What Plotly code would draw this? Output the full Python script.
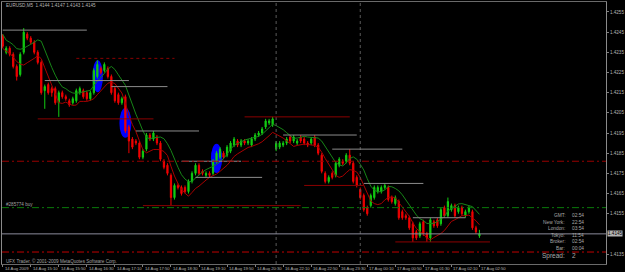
import plotly.graph_objects as go
import pandas as pd

# ---------------- data (EURUSD, M5) ----------------
bar_index = list(range(137))

opens = [1.4243, 1.4235, 1.4237, 1.4234, 1.4228, 1.4224, 1.4235, 1.4244, 1.4242, 1.4240,
         1.4235, 1.4230, 1.4216, 1.4219, 1.4217, 1.4217, 1.4210, 1.4215, 1.4213, 1.4211,
         1.4210, 1.4211, 1.4215, 1.4216, 1.4215, 1.4212, 1.4215, 1.4223, 1.4227, 1.4226,
         1.4227, 1.4223, 1.4217, 1.4214, 1.4210, 1.4213, 1.4198, 1.4192, 1.4191, 1.4190,
         1.4183, 1.4187, 1.4194, 1.4192, 1.4193, 1.4190, 1.4181, 1.4179, 1.4174, 1.4163,
         1.4169, 1.4168, 1.4168, 1.4166, 1.4171, 1.4175, 1.4179, 1.4176, 1.4174, 1.4175,
         1.4175, 1.4181, 1.4183, 1.4185, 1.4184, 1.4186, 1.4189, 1.4191, 1.4189, 1.4191,
         1.4190, 1.4189, 1.4192, 1.4194, 1.4195, 1.4198, 1.4200, 1.4199, 1.4187, 1.4188,
         1.4189, 1.4190, 1.4193, 1.4191, 1.4190, 1.4193, 1.4192, 1.4190, 1.4190, 1.4193,
         1.4189, 1.4184, 1.4175, 1.4171, 1.4175, 1.4174, 1.4179, 1.4181, 1.4181, 1.4184,
         1.4180, 1.4173, 1.4167, 1.4164, 1.4158, 1.4159, 1.4163, 1.4166, 1.4166, 1.4168,
         1.4168, 1.4163, 1.4160, 1.4161, 1.4156, 1.4154, 1.4153, 1.4150, 1.4146, 1.4144,
         1.4151, 1.4145, 1.4143, 1.4151, 1.4152, 1.4150, 1.4158, 1.4154, 1.4157, 1.4159,
         1.4156, 1.4158, 1.4154, 1.4156, 1.4156, 1.4148, 1.4144]

highs = [1.4244, 1.4238, 1.4238, 1.4235, 1.4229, 1.4235, 1.4247, 1.4245, 1.4243, 1.4241,
         1.4236, 1.4231, 1.4219, 1.4220, 1.4218, 1.4218, 1.4216, 1.4216, 1.4214, 1.4212,
         1.4213, 1.4217, 1.4218, 1.4217, 1.4216, 1.4216, 1.4227, 1.4231, 1.4228, 1.4230,
         1.4228, 1.4224, 1.4218, 1.4215, 1.4213, 1.4214, 1.4199, 1.4193, 1.4192, 1.4191,
         1.4187, 1.4195, 1.4195, 1.4196, 1.4194, 1.4191, 1.4182, 1.4180, 1.4175, 1.4170,
         1.4170, 1.4169, 1.4169, 1.4172, 1.4176, 1.4180, 1.4180, 1.4177, 1.4176, 1.4176,
         1.4182, 1.4186, 1.4188, 1.4186, 1.4189, 1.4191, 1.4193, 1.4192, 1.4192, 1.4192,
         1.4192, 1.4193, 1.4195, 1.4196, 1.4198, 1.4202, 1.4202, 1.4203, 1.4191, 1.4191,
         1.4191, 1.4193, 1.4194, 1.4194, 1.4192, 1.4194, 1.4193, 1.4191, 1.4193, 1.4194,
         1.4190, 1.4185, 1.4176, 1.4174, 1.4176, 1.4181, 1.4183, 1.4182, 1.4185, 1.4187,
         1.4181, 1.4174, 1.4168, 1.4165, 1.4159, 1.4165, 1.4169, 1.4169, 1.4169, 1.4170,
         1.4169, 1.4164, 1.4164, 1.4162, 1.4157, 1.4155, 1.4154, 1.4151, 1.4147, 1.4151,
         1.4152, 1.4146, 1.4153, 1.4152, 1.4153, 1.4158, 1.4159, 1.4163, 1.4160, 1.4160,
         1.4159, 1.4159, 1.4157, 1.4159, 1.4157, 1.4149, 1.4147]

lows = [1.4237, 1.4234, 1.4233, 1.4227, 1.4221, 1.4223, 1.4234, 1.4241, 1.4239, 1.4234,
        1.4229, 1.4214, 1.4207, 1.4214, 1.4213, 1.4209, 1.4203, 1.4212, 1.4211, 1.4208,
        1.4209, 1.4210, 1.4214, 1.4212, 1.4211, 1.4211, 1.4214, 1.4222, 1.4224, 1.4225,
        1.4222, 1.4214, 1.4210, 1.4209, 1.4209, 1.4195, 1.4185, 1.4187, 1.4189, 1.4182,
        1.4182, 1.4186, 1.4191, 1.4191, 1.4189, 1.4181, 1.4177, 1.4174, 1.4159, 1.4162,
        1.4167, 1.4164, 1.4165, 1.4165, 1.4170, 1.4174, 1.4174, 1.4174, 1.4173, 1.4173,
        1.4174, 1.4180, 1.4182, 1.4182, 1.4183, 1.4185, 1.4188, 1.4188, 1.4188, 1.4189,
        1.4189, 1.4188, 1.4191, 1.4193, 1.4194, 1.4197, 1.4199, 1.4198, 1.4186, 1.4187,
        1.4188, 1.4189, 1.4190, 1.4190, 1.4189, 1.4190, 1.4189, 1.4188, 1.4189, 1.4188,
        1.4184, 1.4175, 1.4170, 1.4170, 1.4172, 1.4173, 1.4178, 1.4179, 1.4180, 1.4179,
        1.4170, 1.4168, 1.4162, 1.4156, 1.4154, 1.4158, 1.4162, 1.4165, 1.4165, 1.4167,
        1.4161, 1.4160, 1.4159, 1.4152, 1.4152, 1.4152, 1.4147, 1.4141, 1.4142, 1.4143,
        1.4144, 1.4141, 1.4141, 1.4148, 1.4148, 1.4149, 1.4153, 1.4153, 1.4156, 1.4153,
        1.4155, 1.4154, 1.4153, 1.4155, 1.4147, 1.4145, 1.4143]

closes = [1.4238, 1.4237, 1.4234, 1.4228, 1.4223, 1.4234, 1.4245, 1.4242, 1.4240, 1.4235,
          1.4230, 1.4215, 1.4218, 1.4215, 1.4215, 1.4210, 1.4215, 1.4213, 1.4212, 1.4209,
          1.4212, 1.4216, 1.4217, 1.4213, 1.4212, 1.4215, 1.4226, 1.4229, 1.4225, 1.4229,
          1.4223, 1.4215, 1.4211, 1.4210, 1.4212, 1.4196, 1.4191, 1.4188, 1.4190, 1.4183,
          1.4186, 1.4194, 1.4192, 1.4195, 1.4190, 1.4182, 1.4178, 1.4175, 1.4163, 1.4169,
          1.4168, 1.4165, 1.4166, 1.4171, 1.4175, 1.4179, 1.4175, 1.4175, 1.4175, 1.4174,
          1.4181, 1.4185, 1.4187, 1.4183, 1.4188, 1.4190, 1.4192, 1.4189, 1.4191, 1.4190,
          1.4191, 1.4192, 1.4194, 1.4195, 1.4197, 1.4201, 1.4201, 1.4202, 1.4190, 1.4190,
          1.4190, 1.4192, 1.4191, 1.4193, 1.4191, 1.4191, 1.4190, 1.4189, 1.4192, 1.4189,
          1.4185, 1.4176, 1.4171, 1.4173, 1.4173, 1.4180, 1.4182, 1.4180, 1.4184, 1.4180,
          1.4171, 1.4169, 1.4163, 1.4157, 1.4155, 1.4164, 1.4168, 1.4168, 1.4168, 1.4169,
          1.4162, 1.4161, 1.4163, 1.4153, 1.4153, 1.4153, 1.4148, 1.4143, 1.4143, 1.4150,
          1.4145, 1.4143, 1.4152, 1.4149, 1.4149, 1.4157, 1.4154, 1.4161, 1.4159, 1.4154,
          1.4158, 1.4155, 1.4156, 1.4158, 1.4148, 1.4146, 1.4145]

time_tick_index = [0, 8, 16, 24, 32, 40, 48, 56, 64, 72, 80, 88, 96, 104, 112, 120, 128, 136]
time_tick_labels = ["14 Aug 2009", "14 Aug 15:10", "14 Aug 15:50", "14 Aug 16:30",
                    "14 Aug 17:10", "14 Aug 17:50", "14 Aug 18:30", "14 Aug 19:10",
                    "14 Aug 19:50", "14 Aug 20:30", "16 Aug 22:10", "16 Aug 22:50",
                    "16 Aug 23:30", "17 Aug 00:10", "17 Aug 00:50", "17 Aug 01:30",
                    "17 Aug 02:10", "17 Aug 02:50"]

# the 1.4145 level is covered by the bid-price box on the axis
price_ticks = [1.4255, 1.4245, 1.4235, 1.4225, 1.4215, 1.4205, 1.4195,
               1.4185, 1.4175, 1.4165, 1.4155, 1.4135]

day_separators = [78, 102]

# drawn horizontal segments (price level, first bar, last bar, kind)
seg_levels = [1.4246, 1.4232, 1.4221, 1.4218, 1.4202, 1.4196, 1.4181, 1.4173,
              1.4159, 1.4203, 1.4194, 1.4187, 1.4169, 1.4170, 1.4153, 1.4141]
seg_start = [0, 21, 12, 31, 10, 38, 51, 55, 40, 69, 80, 94, 86, 103, 117, 112]
seg_end = [24, 49, 36, 47, 43, 56, 68, 74, 85, 99, 101, 114, 103, 120, 132, 139]
seg_kind = ["gray", "reddot", "gray", "gray", "red", "gray", "gray", "gray",
            "red", "red", "gray", "gray", "red", "gray", "gray", "red"]

# full-width lines
full_levels = [1.4181, 1.4158, 1.4145, 1.4136]
full_kind = ["darkred_dd", "green_dd", "bid", "red_dd"]

# blue ellipses (bar from, bar to, price low, price high)
ell_x0 = [25.6, 33.3, 59.4]
ell_x1 = [28.6, 36.7, 62.6]
ell_y0 = [1.42152, 1.41926, 1.41752]
ell_y1 = [1.42311, 1.42074, 1.41897]

symbol_title = "EURUSD,M5  1.4144 1.4147 1.4143 1.4145"
order_label = "#285774 buy"
copyright_text = "UFX Trader, © 2001-2009 MetaQuotes Software Corp."
info_labels = ["GMT:", "New York:", "London:", "Tokyo:", "Broker:", "Bar:"]
info_values = ["02:54", "22:54", "03:54", "11:54", "02:54", "00:04"]
spread_label = "Spread:"
spread_value = "2"
bid_price = 1.4145

# ---------------- figure ----------------
W, H = 625, 272
ML, MR, MT, MB = 1, 17, 1, 8
FONT = "Liberation Sans, Arial, sans-serif"


def px(xp):
    return (xp - ML) / (W - ML - MR)


def py(yp):
    return (H - MB - yp) / (H - MT - MB)


ma_high = pd.Series(highs).rolling(6, min_periods=1).mean()
ma_low = pd.Series(lows).rolling(6, min_periods=1).mean()

fig = go.Figure()
fig.add_trace(go.Candlestick(
    x=bar_index, open=opens, high=highs, low=lows, close=closes,
    increasing=dict(line=dict(color="#12cc12", width=1), fillcolor="#12cc12"),
    decreasing=dict(line=dict(color="#f00000", width=1), fillcolor="#f00000"),
    whiskerwidth=0, hoverinfo="skip", showlegend=False))
fig.add_trace(go.Scatter(x=bar_index, y=ma_high, mode="lines",
                         line=dict(color="#178517", width=1), hoverinfo="skip", showlegend=False))
fig.add_trace(go.Scatter(x=bar_index, y=ma_low, mode="lines",
                         line=dict(color="#a80000", width=1), hoverinfo="skip", showlegend=False))

shapes = []
for a, b, c, d in zip(ell_x0, ell_x1, ell_y0, ell_y1):
    shapes.append(dict(type="circle", xref="x", yref="y", x0=a, x1=b, y0=c, y1=d,
                       fillcolor="#0000ff", line=dict(width=0), layer="below"))
for sx in day_separators:
    shapes.append(dict(type="line", xref="x", yref="paper", x0=sx, x1=sx, y0=0, y1=1,
                       line=dict(color="#5a5a5a", width=1, dash="dot")))
kind_style = {"gray": dict(color="#8c8c8c", width=1),
              "red": dict(color="#8b0000", width=1),
              "reddot": dict(color="#8b0000", width=1, dash="dot")}
for lv, s0, s1, k in zip(seg_levels, seg_start, seg_end, seg_kind):
    shapes.append(dict(type="line", xref="x", yref="y", x0=s0, x1=s1, y0=lv, y1=lv,
                       line=kind_style[k]))
full_style = {"darkred_dd": dict(color="#9a0000", width=1, dash="7px,3px,2px,3px"),
              "green_dd": dict(color="#0a7a0a", width=1, dash="7px,3px,2px,3px"),
              "bid": dict(color="#8c8c9c", width=1),
              "red_dd": dict(color="#c00000", width=1, dash="7px,3px,2px,3px")}
for lv, k in zip(full_levels, full_kind):
    shapes.append(dict(type="line", xref="paper", yref="y", x0=0, x1=1, y0=lv, y1=lv,
                       line=full_style[k]))

ann = []
txt = "#b4b4b4"
for ti, tl in zip(time_tick_index, time_tick_labels):
    ann.append(dict(x=ti, xref="x", y=py(268.5), yref="paper", text=tl, showarrow=False,
                    xanchor="left", yanchor="middle", xshift=0,
                    font=dict(size=4.2, color=txt, family=FONT)))
ann.append(dict(x=px(3), y=py(4.5), xref="paper", yref="paper", text=symbol_title,
                showarrow=False, xanchor="left", yanchor="middle",
                font=dict(size=4.6, color=txt, family=FONT)))
ann.append(dict(x=px(3), y=py(204), xref="paper", yref="paper", text=order_label,
                showarrow=False, xanchor="left", yanchor="middle",
                font=dict(size=4.6, color="#a0a0a0", family=FONT)))
ann.append(dict(x=px(3), y=py(260.5), xref="paper", yref="paper", text=copyright_text,
                showarrow=False, xanchor="left", yanchor="middle",
                font=dict(size=4.6, color="#a0a0a0", family=FONT)))
info_y = [215, 222, 228.5, 235, 241.5, 248]
for lab, val, yy in zip(info_labels, info_values, info_y):
    ann.append(dict(x=px(569), y=py(yy), xref="paper", yref="paper", text=lab,
                    showarrow=False, xanchor="right", yanchor="middle",
                    font=dict(size=4.8, color="#a8a8a8", family=FONT)))
    ann.append(dict(x=px(572), y=py(yy), xref="paper", yref="paper", text=val,
                    showarrow=False, xanchor="left", yanchor="middle",
                    font=dict(size=4.8, color="#a8a8a8", family=FONT)))
ann.append(dict(x=px(569), y=py(255.5), xref="paper", yref="paper", text=spread_label,
                showarrow=False, xanchor="right", yanchor="middle",
                font=dict(size=6.5, color="#a8a8a8", family=FONT)))
ann.append(dict(x=px(572), y=py(255.5), xref="paper", yref="paper", text=spread_value,
                showarrow=False, xanchor="left", yanchor="middle",
                font=dict(size=6.5, color="#a8a8a8", family=FONT)))
ann.append(dict(x=1, xref="paper", y=bid_price, yref="y", text="1.4145", showarrow=False,
                xanchor="left", yanchor="middle", xshift=1, bgcolor="#b4b4b4",
                borderpad=0, font=dict(size=4.6, color="#000000", family=FONT)))

fig.update_layout(
    width=W, height=H, margin=dict(l=ML, r=MR, t=MT, b=MB, pad=0),
    paper_bgcolor="#000000", plot_bgcolor="#000000",
    showlegend=False, hovermode=False, boxgap=0.5,
    shapes=shapes, annotations=ann,
    font=dict(family=FONT, color=txt),
    xaxis=dict(range=[-0.2, 172.1], showgrid=False, zeroline=False,
               showticklabels=False, tickvals=time_tick_index, ticks="outside",
               ticklen=2, tickcolor="#808080", showline=True, linecolor="#6a6a6a",
               linewidth=1, mirror=True, rangeslider=dict(visible=False), fixedrange=True),
    yaxis=dict(range=[1.413006, 1.425994], side="right", showgrid=False, zeroline=False,
               tickvals=price_ticks, tickformat=".4f", ticks="outside", ticklen=2,
               tickcolor="#808080", tickfont=dict(size=4.6, color=txt, family=FONT),
               showline=True, linecolor="#8a8a8a", linewidth=1, mirror=True, fixedrange=True),
)

fig.write_html("out.html")
